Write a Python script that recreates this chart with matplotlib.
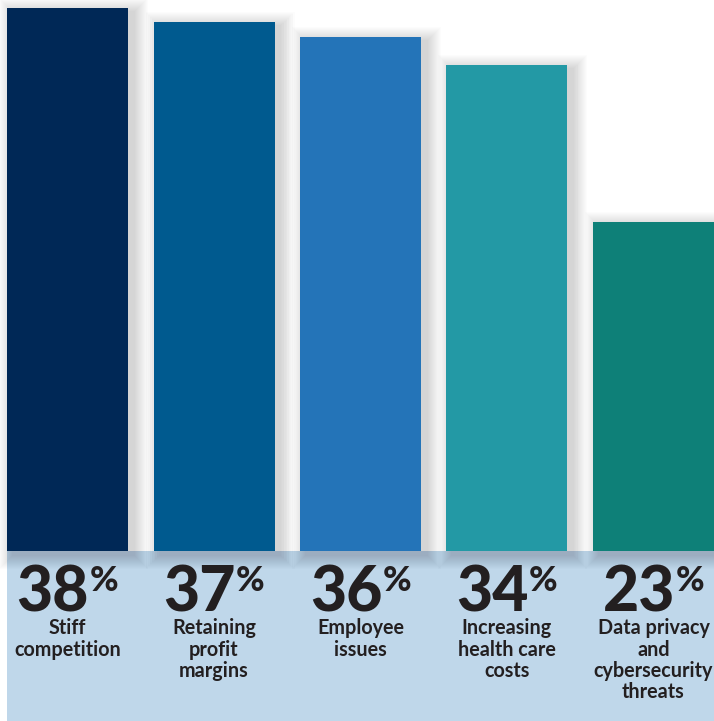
import matplotlib
matplotlib.use("Agg")
import matplotlib.pyplot as plt
from matplotlib.patches import Rectangle

categories = ["Stiff\ncompetition", "Retaining\nprofit\nmargins", "Employee\nissues",
              "Increasing\nhealth care\ncosts", "Data privacy\nand\ncybersecurity\nthreats"]
values = [38, 37, 36, 34, 23]
colors = ["#002856", "#005a8f", "#2474b8", "#2399a5", "#0e8078"]
band_color = "#bfd7ea"
text_color = "#231f20"

W, H = 714, 721
fig = plt.figure(figsize=(W / 100, H / 100), dpi=100)
ax = fig.add_axes([0, 0, 1, 1])
px_x = 146.5          # pixels per category unit
px_y = 543 / 38.0     # pixels per percent
x0_px, y0_px = 67.5, 551
ax.set_xlim(-x0_px / px_x, (W - x0_px) / px_x)
ax.set_ylim(-(H - y0_px) / px_y, y0_px / px_y)
ax.axis("off")

bw = 121 / px_x
# band
ax.add_patch(Rectangle((-bw / 2, ax.get_ylim()[0]), 10, -ax.get_ylim()[0],
                       color=band_color, zorder=0, lw=0))

dx, dy = 1 / px_x, 1 / px_y
for i, (v, c) in enumerate(zip(values, colors)):
    # soft shadow
    for k in range(1, 15):
        ax.add_patch(Rectangle((i - bw / 2 - k * dx + 6 * dx, -k * dy - 4 * dy),
                               bw + 2 * k * dx, v + 2 * k * dy,
                               color="black", alpha=0.013, lw=0, zorder=1))
    ax.add_patch(Rectangle((i - bw / 2, 0), bw, v, color=c, lw=0, zorder=2))

fig.canvas.draw()
r = fig.canvas.get_renderer()
for i, (v, lab) in enumerate(zip(values, categories)):
    num = ax.text(i, -0.95, str(v), ha="center", va="top", fontsize=45,
                  family="Lato", fontweight="black", color=text_color, zorder=3)
    pct = ax.text(i, -0.95, "%", ha="left", va="top", fontsize=25,
                  family="Lato", fontweight="black", color=text_color, zorder=3)
    wn = num.get_window_extent(r).width
    wp = pct.get_window_extent(r).width
    gap = 0.5
    shift = (wp + gap) / 2 / px_x
    num.set_x(i - shift)
    pct.set_x(i - shift + (wn / 2 + gap) / px_x)
    ax.text(i, -4.72, lab, ha="center", va="top", fontsize=14.2,
            family="Lato", fontweight="bold", color=text_color,
            linespacing=1.08, zorder=3)

fig.savefig("out.png", dpi=100)
